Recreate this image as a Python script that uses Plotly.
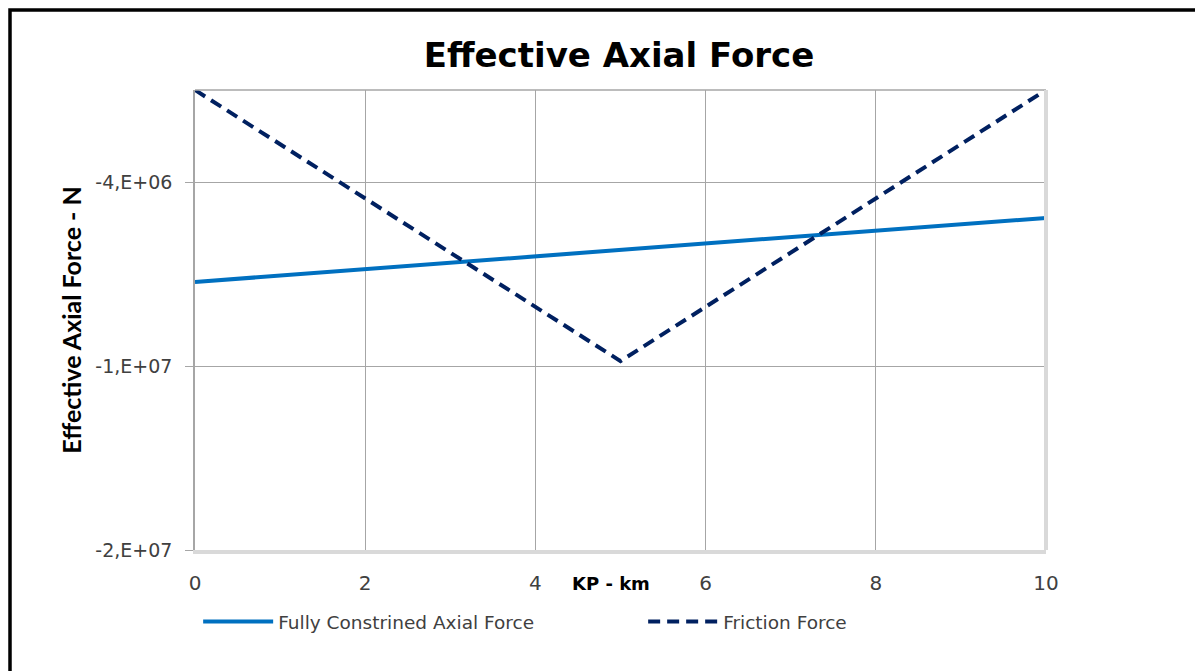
import plotly.graph_objects as go

# KP positions along the pipeline (km)
kp_km = [0, 2, 4, 6, 8, 10]
# fully constrained effective axial force (N)
fully_constrained = [-7.26e6, -6.84e6, -6.41e6, -6.02e6, -5.57e6, -5.17e6]

# friction force (N), V-shape with the minimum at mid-line
kp_friction = [0, 5, 10]
friction_force = [-1.0e6, -9.84e6, -1.0e6]

y_tickvals = [-1.6e7, -1.0e7, -4.0e6]
y_ticktext = ["-2,E+07", "-1,E+07", "-4,E+06"]
x_tickvals = [0, 2, 4, 6, 8, 10]

# the page body has an 8px margin, so the figure starts at (8, 8) on screen
PAGE = 8
W, H = 1203 - PAGE, 671 - PAGE
L, R, T, B = 195, 1046, 90, 550  # plot area in screen pixels

SANS = "DejaVu Sans, sans-serif"


def px_x(p):
    return (p - L) / (R - L)


def px_y(p):
    return (B - p) / (B - T)


fig = go.Figure()
fig.add_trace(go.Scatter(
    x=kp_km, y=fully_constrained, mode="lines",
    name="Fully Constrined Axial Force",
    line=dict(color="#0070C0", width=4),
))
fig.add_trace(go.Scatter(
    x=kp_friction, y=friction_force, mode="lines",
    name="Friction Force",
    line=dict(color="#002060", width=4, dash="12px,7px"),
))

fig.update_layout(
    width=W, height=H,
    margin=dict(l=L - PAGE, r=W - (R - PAGE), t=T - PAGE, b=H - (B - PAGE)),
    paper_bgcolor="white", plot_bgcolor="white",
    font=dict(family=SANS, color="#404040", size=19),
    title=dict(
        text="<b>Effective Axial Force</b>",
        font=dict(family=SANS, size=34, color="black"),
        x=(619 - PAGE) / W, xanchor="center", y=1 - (55 - PAGE) / H, yanchor="middle",
    ),
    showlegend=True,
    # x just left of the plot area so the legend may be wider than the plot
    legend=dict(
        orientation="h", x=-0.001, xanchor="left", y=px_y(603), yanchor="top",
        itemwidth=70, entrywidth=356, entrywidthmode="pixels", indentation=4,
        font=dict(family=SANS, size=18.5, color="#404040"), bgcolor="rgba(0,0,0,0)",
    ),
)

fig.update_xaxes(
    range=[0, 10], tickvals=x_tickvals, showgrid=True, gridcolor="#A6A6A6", gridwidth=1,
    zeroline=False, showline=True, linecolor="#D9D9D9", linewidth=4,
    ticks="", tickfont=dict(size=20, color="#404040"), ticklabelstandoff=12,
)
fig.update_yaxes(
    range=[-1.6e7, -1.0e6], tickvals=y_tickvals, ticktext=y_ticktext,
    showgrid=True, gridcolor="#A6A6A6", gridwidth=1,
    zeroline=False, showline=True, linecolor="#A6A6A6", linewidth=1.5,
    ticks="outside", ticklen=8, tickcolor="#A6A6A6",
    tickfont=dict(size=19, color="#404040"), ticklabelstandoff=9,
    title=dict(text="<b>Effective Axial Force - N</b>",
               font=dict(family="Lato, sans-serif", size=25, color="black"), standoff=7),
)

# top and right plot-area edges
fig.add_shape(type="line", xref="paper", yref="paper", x0=0, x1=1, y0=1, y1=1,
              line=dict(color="#A6A6A6", width=1.5))
fig.add_shape(type="line", xref="paper", yref="paper", x0=1, x1=1, y0=0, y1=1,
              line=dict(color="#D9D9D9", width=4))

# x-axis title sitting on the tick-label row
fig.add_annotation(text="<b>KP - km</b>", xref="paper", yref="paper",
                   x=px_x(611), y=px_y(583), xanchor="center", yanchor="middle",
                   showarrow=False, font=dict(family=SANS, size=18, color="black"))

# outer chart frame (cropped on right and bottom)
fig.add_shape(type="rect", xref="paper", yref="paper",
              x0=px_x(10), x1=px_x(1230), y0=px_y(10), y1=px_y(700),
              line=dict(color="black", width=3.5), layer="above")

fig.write_html("out.html")
